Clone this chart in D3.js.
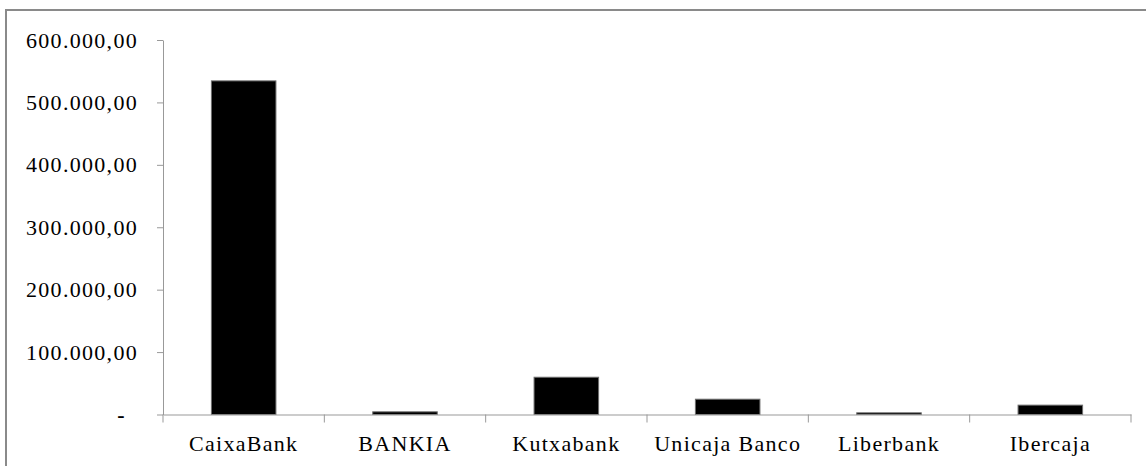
<!DOCTYPE html>
<html>
<head>
    <meta charset="utf-8">
    <script src="https://d3js.org/d3.v7.min.js"></script>
    <style>
        body { margin: 0; background: #fff; }
        text { font-family: "Liberation Serif", "Times New Roman", serif; fill: #000; }
    </style>
</head>
<body>
<script>
var banks = ["CaixaBank", "BANKIA", "Kutxabank", "Unicaja Banco", "Liberbank", "Ibercaja"];
var amounts = [534500, 4300, 59700, 24500, 2700, 15000];
var yTicks = [0, 100000, 200000, 300000, 400000, 500000, 600000];

var width = 1146, height = 466;
var plotLeft = 163, plotRight = 1131, plotTop = 40, plotBottom = 414.5;

var svg = d3.select("body").append("svg")
    .attr("width", width)
    .attr("height", height);

// outer frame (only top and left visible in the picture)
svg.append("path")
    .attr("d", "M6," + height + "V10H" + width)
    .attr("fill", "none")
    .attr("stroke", "#8a8a8a")
    .attr("stroke-width", 2);

var es = d3.formatLocale({ decimal: ",", thousands: ".", grouping: [3], currency: ["", ""] });
var fmt = es.format(",.2f");

var y = d3.scaleLinear().domain([0, 600000]).range([plotBottom, plotTop]);
var x = d3.scaleBand().domain(banks).range([plotLeft, plotRight]);

// bars
svg.append("g").selectAll("rect")
    .data(banks)
    .enter().append("rect")
    .attr("x", function(d) { return x(d) + x.bandwidth() * 0.3; })
    .attr("width", x.bandwidth() * 0.4)
    .attr("y", function(d, i) { return y(amounts[i]); })
    .attr("height", function(d, i) { return plotBottom - y(amounts[i]); })
    .attr("fill", "#000")
    .attr("stroke", "#6e6e6e")
    .attr("stroke-width", 1);

// y axis
var yAxis = svg.append("g")
    .attr("transform", "translate(" + plotLeft + ",0)")
    .call(d3.axisLeft(y).tickValues(yTicks).tickSize(6).tickSizeOuter(0).tickPadding(19)
        .tickFormat(function(d) { return d === 0 ? "-" : fmt(d); }));
yAxis.selectAll("path, line").attr("stroke", "#999");
yAxis.selectAll("text")
    .style("font-size", "22px")
    .style("letter-spacing", "1.3px")
    .filter(function(d) { return d === 0; })
    .attr("x", -37)
    .style("font-weight", "bold");

// x axis
var xAxis = svg.append("g")
    .attr("transform", "translate(0," + plotBottom + ")")
    .call(d3.axisBottom(x).tickSize(0).tickSizeOuter(0).tickPadding(21));
xAxis.select(".domain").attr("stroke", "#999");
xAxis.selectAll("text")
    .style("font-size", "22px")
    .style("letter-spacing", "1.3px");

// tick marks on the category boundaries
var edges = banks.map(function(d) { return x(d); }).concat([x(banks[banks.length - 1]) + x.bandwidth()]);
xAxis.selectAll(".edge")
    .data(edges)
    .enter().append("line")
    .attr("class", "edge")
    .attr("x1", function(d) { return d; })
    .attr("x2", function(d) { return d; })
    .attr("y1", 0)
    .attr("y2", 8)
    .attr("stroke", "#999");
</script>
</body>
</html>
